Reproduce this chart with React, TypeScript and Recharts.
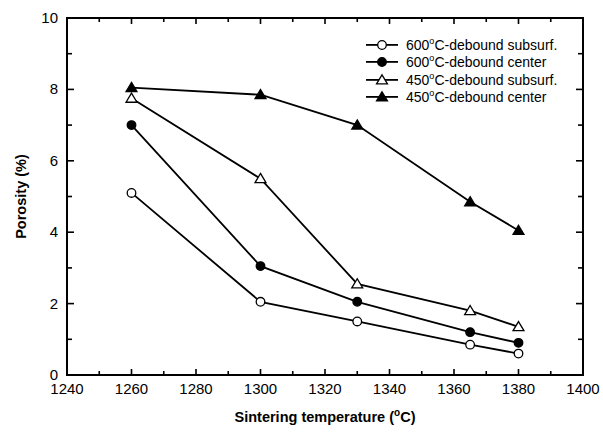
import React from "react";
import { LineChart, Line, XAxis, YAxis, Legend } from "recharts";

const temps = [1260, 1300, 1330, 1365, 1380];
const sub600 = [5.1, 2.05, 1.5, 0.85, 0.6];
const cen600 = [7.0, 3.05, 2.05, 1.2, 0.9];
const sub450 = [7.75, 5.5, 2.55, 1.8, 1.35];
const cen450 = [8.05, 7.85, 7.0, 4.85, 4.05];

const xDomain = [1240, 1400];
const yDomain = [0, 10];
const xTickVals = [1240, 1250, 1260, 1270, 1280, 1290, 1300, 1310, 1320, 1330, 1340, 1350, 1360, 1370, 1380, 1390, 1400];
const yTickVals = [0, 1, 2, 3, 4, 5, 6, 7, 8, 9, 10];

const seriesDefs = [
  { key: "sub600", temp: "600", name: "C-debound subsurf.", shape: "circle", filled: false },
  { key: "cen600", temp: "600", name: "C-debound center", shape: "circle", filled: true },
  { key: "sub450", temp: "450", name: "C-debound subsurf.", shape: "triangle", filled: false },
  { key: "cen450", temp: "450", name: "C-debound center", shape: "triangle", filled: true },
];

const data = temps.map((t, i) => ({
  t,
  sub600: sub600[i],
  cen600: cen600[i],
  sub450: sub450[i],
  cen450: cen450[i],
}));

const FONT = "'Liberation Sans', Arial, Helvetica, sans-serif";

const W = 603;
const H = 436;
const M = { top: 17, right: 19, bottom: 31, left: 0 };
const X_AXIS_H = 30;
const TOP_AXIS_H = 1;
const Y_AXIS_W = 67;
const RIGHT_AXIS_W = 1;
const PL = M.left + Y_AXIS_W;
const PR = W - M.right - RIGHT_AXIS_W;
const PT = M.top + TOP_AXIS_H;
const PB = H - M.bottom - X_AXIS_H;
const sx = (v: number) => PL + ((v - xDomain[0]) / (xDomain[1] - xDomain[0])) * (PR - PL);
const sy = (v: number) => PB - ((v - yDomain[0]) / (yDomain[1] - yDomain[0])) * (PB - PT);

function Marker({ cx, cy, shape, filled }: any) {
  if (cx == null || cy == null) return null;
  const fill = filled ? "#000" : "#fff";
  if (shape === "circle") {
    return <circle cx={cx} cy={cy} r={4.3} fill={fill} stroke="#000" strokeWidth={1.3} />;
  }
  const s = 5.2;
  const pts = `${cx},${cy - s} ${cx + s * 1.05},${cy + s * 0.75} ${cx - s * 1.05},${cy + s * 0.75}`;
  return <polygon points={pts} fill={fill} stroke="#000" strokeWidth={1.3} />;
}

const BottomTick = (props: any) => {
  const { x, y, payload } = props;
  if (payload.value % 20 !== 0) return <g />;
  return (
    <text x={x} y={y + 19} textAnchor="middle" fontFamily={FONT} fontSize={15} fill="#000">
      {payload.value}
    </text>
  );
};

const LeftTick = (props: any) => {
  const { x, y, payload } = props;
  if (payload.value % 2 !== 0) return <g />;
  return (
    <text x={x - 9} y={y + 5} textAnchor="end" fontFamily={FONT} fontSize={15} fill="#000">
      {payload.value}
    </text>
  );
};

const LegendContent = () => (
  <div style={{ fontFamily: FONT, fontSize: 14, color: "#000" }}>
    {seriesDefs.map((s) => (
      <div key={s.key} style={{ display: "flex", alignItems: "center", height: 17.3, whiteSpace: "nowrap" }}>
        <svg width={34} height={14} style={{ marginRight: 7 }}>
          <rect x={1} y={6} width={32} height={1.8} fill="#000" />
          <Marker cx={17} cy={7} shape={s.shape} filled={s.filled} />
        </svg>
        <span>
          {s.temp}
          <sup style={{ fontSize: 9, verticalAlign: "top", position: "relative", top: -1 }}>o</sup>
          {s.name}
        </span>
      </div>
    ))}
  </div>
);

const LW = 2; // frame line thickness
const TW = 1.6; // tick thickness

export default function App() {
  return (
    <div style={{ position: "absolute", left: 0, top: 0, width: W, height: H, background: "#fff" }}>
      <LineChart width={W} height={H} data={data} margin={M}>
        <XAxis
          dataKey="t"
          type="number"
          domain={xDomain}
          tickCount={xTickVals.length}
          tickFormatter={(v: number) => (v % 20 === 0 ? String(v) : "")}
          tickSize={0}
          tickMargin={0}
          tick={<BottomTick />}
          axisLine={false}
          tickLine={false}
          height={X_AXIS_H}
        />
        <XAxis xAxisId="top" orientation="top" dataKey="t" type="number" domain={xDomain} tick={false} axisLine={false} tickLine={false} height={TOP_AXIS_H} />
        <YAxis
          type="number"
          domain={yDomain}
          tickCount={yTickVals.length}
          tickFormatter={(v: number) => (v % 2 === 0 ? String(v) : "")}
          tickSize={0}
          tickMargin={0}
          tick={<LeftTick />}
          axisLine={false}
          tickLine={false}
          width={Y_AXIS_W}
        />
        <YAxis yAxisId="right" orientation="right" type="number" domain={yDomain} tick={false} axisLine={false} tickLine={false} width={RIGHT_AXIS_W} />
        <Legend
          layout="vertical"
          align="center"
          verticalAlign="middle"
          content={<LegendContent />}
          wrapperStyle={{ top: 36.3, left: 365, width: 230, height: 70 }}
        />
        {seriesDefs.map((s) => (
          <Line
            key={s.key}
            dataKey={s.key}
            stroke="#000"
            strokeWidth={1.8}
            isAnimationActive={false}
            dot={(p: any) => <Marker key={`${s.key}-${p.index}`} cx={p.cx} cy={p.cy} shape={s.shape} filled={s.filled} />}
            activeDot={false}
          />
        ))}
      </LineChart>
      <svg width={W} height={H} style={{ position: "absolute", left: 0, top: 0, pointerEvents: "none" }}>
        <rect x={PL - LW / 2} y={PT - LW / 2} width={PR - PL + LW} height={LW} fill="#000" />
        <rect x={PL - LW / 2} y={PB - LW / 2} width={PR - PL + LW} height={LW} fill="#000" />
        <rect x={PL - LW / 2} y={PT - LW / 2} width={LW} height={PB - PT + LW} fill="#000" />
        <rect x={PR - LW / 2} y={PT - LW / 2} width={LW} height={PB - PT + LW} fill="#000" />
        {xTickVals.map((v) => {
          const len = v % 20 === 0 ? 6 : 4;
          return (
            <g key={`xt${v}`}>
              <rect x={sx(v) - TW / 2} y={PB - len} width={TW} height={len} fill="#000" />
              <rect x={sx(v) - TW / 2} y={PT} width={TW} height={len} fill="#000" />
            </g>
          );
        })}
        {yTickVals.map((v) => {
          const len = v % 2 === 0 ? 7 : 5;
          return (
            <g key={`yt${v}`}>
              <rect x={PL} y={sy(v) - TW / 2} width={len} height={TW} fill="#000" />
              <rect x={PR - len} y={sy(v) - TW / 2} width={len} height={TW} fill="#000" />
            </g>
          );
        })}
        <text x={(PL + PR) / 2} y={422} textAnchor="middle" fontFamily={FONT} fontSize={14.5} fontWeight="bold" fill="#000">
          Sintering temperature (
          <tspan fontSize={10} dy={-6}>o</tspan>
          <tspan dy={6}>C)</tspan>
        </text>
        <text
          x={26}
          y={(PT + PB) / 2}
          textAnchor="middle"
          fontFamily={FONT}
          fontSize={14.5}
          fontWeight="bold"
          fill="#000"
          transform={`rotate(-90 26 ${(PT + PB) / 2})`}
        >
          Porosity (%)
        </text>
      </svg>
    </div>
  );
}
